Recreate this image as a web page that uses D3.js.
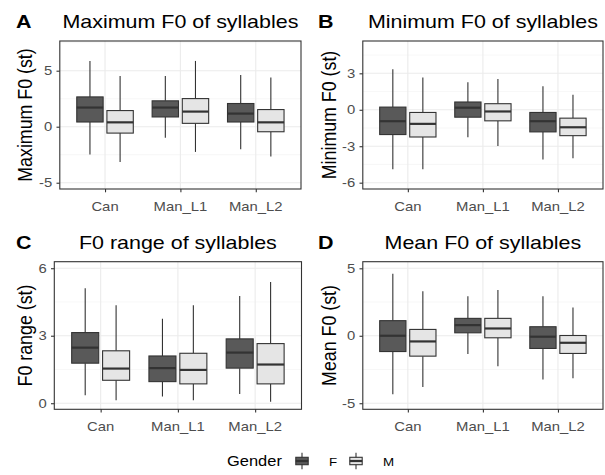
<!DOCTYPE html>
<html><head><meta charset="utf-8">
<script src="https://cdn.jsdelivr.net/npm/d3@7"></script>
<style>html,body{margin:0;padding:0;background:#fff;}svg{display:block;}</style>
</head><body>
<svg id="chart" width="605" height="475"></svg>
<script>
// ---------- data ----------
const categories = ["Can", "Man_L1", "Man_L2"];
const genders = ["F", "M"];
// each entry: [lower whisker, Q1, median, Q3, upper whisker]
const maxF0_F = [[-2.49, 0.42, 1.71, 2.66, 5.87], [-0.99, 0.87, 1.71, 2.31, 4.52], [-2.01, 0.42, 1.17, 2.07, 4.61]];
const maxF0_M = [[-3.14, -0.57, 0.39, 1.44, 4.52], [-2.25, 0.30, 1.35, 2.51, 5.87], [-2.66, -0.45, 0.39, 1.53, 4.40]];
const minF0_F = [[-4.89, -2.04, -0.94, 0.22, 3.34], [-2.27, -0.61, 0.17, 0.64, 2.27], [-4.09, -1.82, -0.94, -0.22, 1.93]];
const minF0_M = [[-4.89, -2.24, -1.16, -0.22, 2.65], [-2.98, -0.91, -0.14, 0.50, 2.54], [-3.98, -2.13, -1.44, -0.69, 1.24]];
const rangeF0_F = [[0.36, 1.78, 2.47, 3.14, 5.11], [0.30, 0.96, 1.56, 2.10, 3.75], [0.41, 1.56, 2.25, 2.86, 4.77]];
const rangeF0_M = [[0.13, 1.02, 1.54, 2.33, 4.36], [0.13, 0.86, 1.48, 2.22, 4.36], [0.07, 0.86, 1.72, 2.65, 5.39]];
const meanF0_F = [[-4.34, -1.17, 0.00, 1.12, 4.59], [-1.36, 0.22, 0.79, 1.29, 2.92], [-3.24, -0.94, -0.07, 0.67, 2.92]];
const meanF0_M = [[-3.80, -1.51, -0.42, 0.47, 3.30], [-2.25, -0.15, 0.54, 1.29, 3.39], [-3.14, -1.31, -0.52, 0.02, 2.10]];

const panelTags = ["A", "B", "C", "D"];
const panelTitles = ["Maximum F0 of syllables", "Minimum F0 of syllables", "F0 range of syllables", "Mean F0 of syllables"];
const yTitles = ["Maximum F0 (st)", "Minimum F0 (st)", "F0 range (st)", "Mean F0 (st)"];
const yTicksA = [-5, 0, 5];
const yTicksB = [-6, -3, 0, 3];
const yTicksC = [0, 3, 6];
const yTicksD = [-5, 0, 5];
const legendTitle = "Gender";

// ---------- layout / style ----------
const SX = 1.16; // horizontal stretch of glyphs
const FONT = "'Liberation Sans', Arial, sans-serif";
const fillColor = {F: "#595959", M: "#E5E5E5"};
const lineCol = "#333333";

const panels = [
  {data: {F: maxF0_F, M: maxF0_M}, ticks: yTicksA, minor: [-2.5, 2.5, 7.5], domain: [-5.56, 7.65],
   x0: 59.8, x1: 301, y0: 41, y1: 189, ytx: 32},
  {data: {F: minF0_F, M: minF0_M}, ticks: yTicksB, minor: [-4.5, -1.5, 1.5, 4.5], domain: [-6.52, 5.66],
   x0: 362.8, x1: 603, y0: 41, y1: 189, ytx: 336},
  {data: {F: rangeF0_F, M: rangeF0_M}, ticks: yTicksC, minor: [1.5, 4.5], domain: [-0.27, 6.29],
   x0: 54.3, x1: 301.5, y0: 261.7, y1: 409.3, ytx: 32},
  {data: {F: meanF0_F, M: meanF0_M}, ticks: yTicksD, minor: [-2.5, 2.5], domain: [-5.45, 5.49],
   x0: 362.8, x1: 603, y0: 261.7, y1: 409.3, ytx: 336}
];

const svg = d3.select("#chart");

function txt(parent, x, y, str, o) {
  o = o || {};
  const g = parent.append("g")
    .attr("transform", `translate(${x},${y}) scale(${SX},1)` + (o.rotate ? ` rotate(${o.rotate})` : ""));
  g.append("text")
    .attr("x", 0).attr("y", 0)
    .attr("text-anchor", o.anchor || "start")
    .attr("font-family", FONT)
    .attr("font-size", o.size || 12)
    .attr("font-weight", o.weight || "normal")
    .attr("fill", o.fill || "#000")
    .text(str);
  return g;
}

panels.forEach((p, i) => {
  const g = svg.append("g");
  const x = d3.scalePoint().domain(categories).range([p.x0, p.x1]).padding(0.6);
  const y = d3.scaleLinear().domain(p.domain).range([p.y1, p.y0]);
  const step = x.step();
  const dodge = d3.scaleBand().domain(genders).range([-0.4 * step, 0.4 * step]);
  const boxW = 0.35 * step;

  // background
  g.append("rect").attr("x", p.x0).attr("y", p.y0).attr("width", p.x1 - p.x0).attr("height", p.y1 - p.y0)
    .attr("fill", "#fff");
  // minor grid
  g.selectAll(".ming").data(p.minor.filter(v => v > p.domain[0] && v < p.domain[1])).join("line")
    .attr("x1", p.x0).attr("x2", p.x1).attr("y1", d => y(d)).attr("y2", d => y(d))
    .attr("stroke", "#F2F2F2").attr("stroke-width", 0.6);
  // major grid
  g.selectAll(".majg").data(p.ticks).join("line")
    .attr("x1", p.x0).attr("x2", p.x1).attr("y1", d => y(d)).attr("y2", d => y(d))
    .attr("stroke", "#EBEBEB").attr("stroke-width", 1.1);
  g.selectAll(".majx").data(categories).join("line")
    .attr("x1", d => x(d)).attr("x2", d => x(d)).attr("y1", p.y0).attr("y2", p.y1)
    .attr("stroke", "#EBEBEB").attr("stroke-width", 1.1);

  // boxes
  genders.forEach(gd => {
    categories.forEach((c, ci) => {
      const s = p.data[gd][ci];
      const cx = x(c) + dodge(gd) + dodge.bandwidth() / 2;
      const bg = g.append("g");
      bg.append("line").attr("x1", cx).attr("x2", cx).attr("y1", y(s[4])).attr("y2", y(s[3]))
        .attr("stroke", lineCol).attr("stroke-width", 1.1);
      bg.append("line").attr("x1", cx).attr("x2", cx).attr("y1", y(s[1])).attr("y2", y(s[0]))
        .attr("stroke", lineCol).attr("stroke-width", 1.1);
      bg.append("rect").attr("x", cx - boxW / 2).attr("width", boxW)
        .attr("y", y(s[3])).attr("height", y(s[1]) - y(s[3]))
        .attr("fill", fillColor[gd]).attr("stroke", lineCol).attr("stroke-width", 1.1);
      bg.append("line").attr("x1", cx - boxW / 2).attr("x2", cx + boxW / 2).attr("y1", y(s[2])).attr("y2", y(s[2]))
        .attr("stroke", lineCol).attr("stroke-width", 2.2);
    });
  });

  // border
  g.append("rect").attr("x", p.x0).attr("y", p.y0).attr("width", p.x1 - p.x0).attr("height", p.y1 - p.y0)
    .attr("fill", "none").attr("stroke", lineCol).attr("stroke-width", 1.1);

  // axes ticks
  const yAxis = d3.axisLeft(y).tickValues(p.ticks).tickSize(3.3).tickFormat("");
  const ya = g.append("g").attr("transform", `translate(${p.x0},0)`).call(yAxis);
  ya.select(".domain").remove();
  ya.selectAll(".tick line").attr("stroke", lineCol).attr("stroke-width", 1.1);
  const xAxis = d3.axisBottom(x).tickSize(3.3).tickFormat("");
  const xa = g.append("g").attr("transform", `translate(0,${p.y1})`).call(xAxis);
  xa.select(".domain").remove();
  xa.selectAll(".tick line").attr("stroke", lineCol).attr("stroke-width", 1.1);

  // tick labels
  p.ticks.forEach(t => txt(g, p.x0 - 7.5, y(t) + 4.6, String(t).replace("-", "-"), {size: 12.8, anchor: "end", fill: "#4D4D4D"}));
  categories.forEach(c => txt(g, x(c), p.y1 + 21.5, c, {size: 12.8, anchor: "middle", fill: "#4D4D4D"}));

  // y title
  txt(g, p.ytx, (p.y0 + p.y1) / 2, yTitles[i], {size: 17.8, anchor: "middle", rotate: -90});
  // panel title & tag
  const titleY = p.y0 - 12.7;
  txt(g, (p.x0 + p.x1) / 2, titleY, panelTitles[i], {size: 18.5, anchor: "middle"});
  txt(g, i % 2 === 0 ? 16 : 318, titleY, panelTags[i], {size: 18.5, weight: "bold"});
});

// legend
const lg = svg.append("g");
txt(lg, 227, 466, legendTitle, {size: 14.2});
const keyX = {F: 302, M: 356};
genders.forEach(gd => {
  const cx = keyX[gd];
  lg.append("line").attr("x1", cx).attr("x2", cx).attr("y1", 452.7).attr("y2", 469.3)
    .attr("stroke", lineCol).attr("stroke-width", 1.1);
  lg.append("rect").attr("x", cx - 6.2).attr("y", 457.3).attr("width", 12.4).attr("height", 7.4)
    .attr("fill", fillColor[gd]).attr("stroke", lineCol).attr("stroke-width", 1.1);
  lg.append("line").attr("x1", cx - 6.2).attr("x2", cx + 6.2).attr("y1", 461).attr("y2", 461)
    .attr("stroke", lineCol).attr("stroke-width", 2.2);
  txt(lg, cx + 27, 465.5, gd, {size: 11.5, fill: "#000"});
});
</script>
</body></html>
